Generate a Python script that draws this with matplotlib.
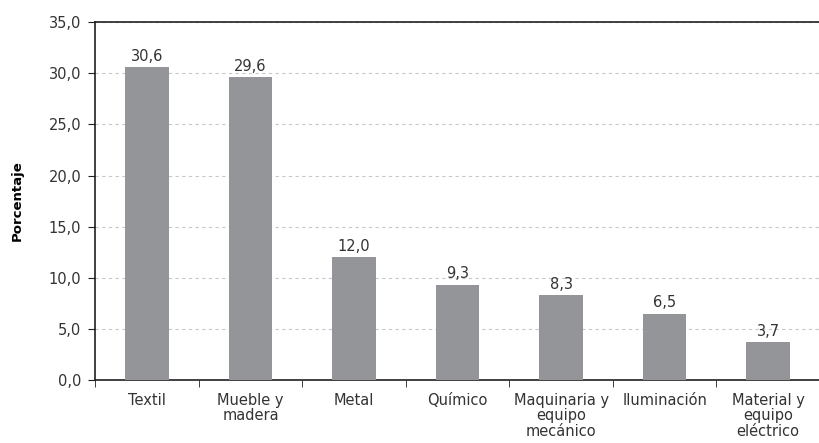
import matplotlib
matplotlib.use("Agg")
import matplotlib.pyplot as plt
import numpy as np

categorias = ["Textil", "Mueble y\nmadera", "Metal", "Químico",
              "Maquinaria y\nequipo\nmecánico", "Iluminación",
              "Material y\nequipo\neléctrico"]
valores = [30.6, 29.6, 12.0, 9.3, 8.3, 6.5, 3.7]
yticks = [0, 5, 10, 15, 20, 25, 30, 35]

plt.rcParams['font.family'] = ['DejaVu Sans']

fig = plt.figure(figsize=(8.2, 4.43), dpi=100)
ax = fig.add_axes([0.116, 0.142, 0.884, 0.808])

x = np.arange(len(categorias))
ax.bar(x, valores, width=0.42, color="#939598", zorder=3)

for xi, v in zip(x, valores):
    ax.text(xi, v + 0.35, f"{v:.1f}".replace(".", ","), ha="center",
            va="bottom", fontsize=10.5, color="#333333")

ax.set_xlim(-0.5, len(categorias) - 0.5)
ax.set_ylim(0, 35)
ax.set_yticks(yticks)
ax.set_yticklabels([f"{t:.1f}".replace(".", ",") for t in yticks],
                   fontsize=10.5, color="#333333")
ax.yaxis.grid(True, linestyle=(0, (3, 3)), color="#c8c8c8", linewidth=0.8, zorder=0)

ax.set_xticks(x)
ax.set_xticklabels(categorias, fontsize=10.5, color="#333333", linespacing=1.05)
ax.tick_params(axis="x", which="major", length=0, pad=9)
ax.set_xticks(np.arange(len(categorias) + 1) - 0.5, minor=True)
ax.tick_params(axis="x", which="minor", length=5, direction="out", color="#231f20")
ax.tick_params(axis="y", length=5, direction="out", color="#231f20", pad=5)

ax.spines["right"].set_visible(False)
for s in ["left", "bottom", "top"]:
    ax.spines[s].set_color("#231f20")
    ax.spines[s].set_linewidth(1.2)

ax.set_ylabel("Porcentaje", fontsize=9.5, fontweight="bold", labelpad=18)

fig.savefig("out.png", dpi=100)
